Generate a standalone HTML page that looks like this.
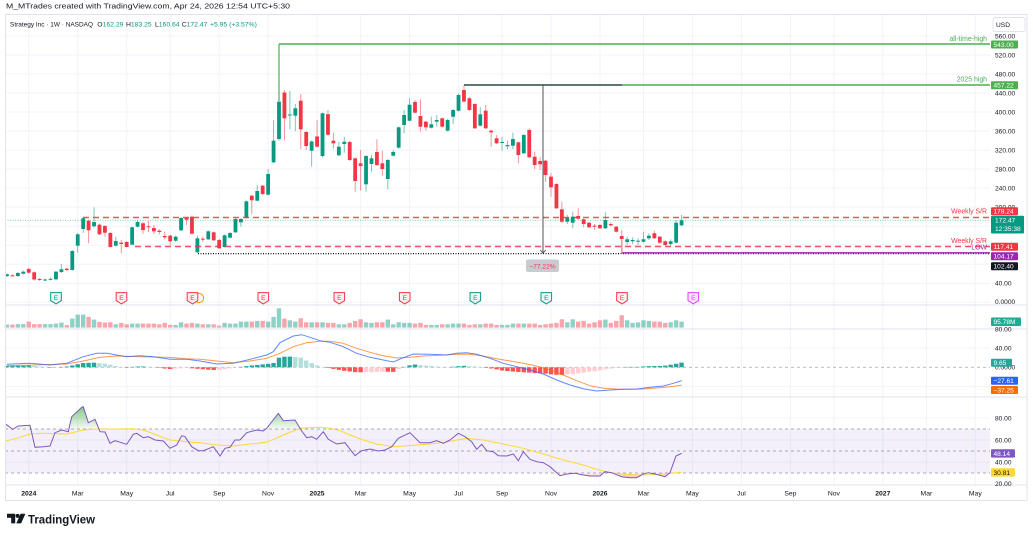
<!DOCTYPE html>
<html><head><meta charset="utf-8">
<style>
html,body{margin:0;padding:0;background:#fff;}
svg{display:block;font-family:"Liberation Sans",sans-serif;}
</style></head>
<body>
<svg id="c" width="1033" height="535" viewBox="0 0 1033 535" xmlns="http://www.w3.org/2000/svg">
<defs>
<linearGradient id="gOB" x1="0" y1="405" x2="0" y2="429" gradientUnits="userSpaceOnUse">
<stop offset="0" stop-color="#4caf50" stop-opacity="0.75"/><stop offset="1" stop-color="#4caf50" stop-opacity="0.05"/></linearGradient>
<linearGradient id="gOS" x1="0" y1="473" x2="0" y2="480" gradientUnits="userSpaceOnUse">
<stop offset="0" stop-color="#f23645" stop-opacity="0.05"/><stop offset="1" stop-color="#f23645" stop-opacity="0.5"/></linearGradient>
<clipPath id="cOB"><rect x="0" y="397" width="990" height="32"/></clipPath>
<clipPath id="cOS"><rect x="0" y="473" width="990" height="12"/></clipPath>
</defs>
<rect width="1033" height="535" fill="#fff"/>
<text x="6" y="8.7" font-size="7.6" fill="#131722" textLength="284" lengthAdjust="spacingAndGlyphs">M_MTrades created with TradingView.com, Apr 24, 2026 12:54 UTC+5:30</text>
<g id="grid"></g>
<rect x="5" y="429" width="985" height="44" fill="#7e57c2" fill-opacity="0.09"/>
<g stroke="#787b86" stroke-width="0.8" stroke-dasharray="3,3" opacity="0.8">
<line x1="5" x2="990" y1="429" y2="429"/><line x1="5" x2="990" y1="451" y2="451"/><line x1="5" x2="990" y1="473" y2="473"/>
<line x1="5" x2="990" y1="367.3" y2="367.3" opacity="0.7"/>
</g>
<g id="data"></g>
<!-- drawings -->
<line x1="5" x2="990" y1="220.3" y2="220.3" stroke="#089981" stroke-width="0.9" stroke-dasharray="1,1.5" opacity="0.55"/>
<line x1="83" x2="990" y1="217.5" y2="217.5" stroke="#f23645" stroke-width="1.5" stroke-dasharray="6,4" opacity="0.85"/>
<line x1="135" x2="990" y1="246.5" y2="246.5" stroke="#f23645" stroke-width="1.5" stroke-dasharray="6,4" opacity="0.85"/>
<line x1="198" x2="990" y1="253.6" y2="253.6" stroke="#131722" stroke-width="1.2" stroke-dasharray="1,1.5"/>
<line x1="622" x2="990" y1="252.8" y2="252.8" stroke="#9c27b0" stroke-width="1.4"/>
<line x1="279" x2="990" y1="44" y2="44" stroke="#4caf50" stroke-width="1.4"/>
<line x1="279" x2="279" y1="44" y2="101" stroke="#4caf50" stroke-width="1.2"/>
<line x1="464" x2="990" y1="85" y2="85" stroke="#4caf50" stroke-width="1.4"/>
<line x1="464" x2="622" y1="85" y2="85" stroke="#50535e" stroke-width="1.4"/>
<line x1="543" x2="543" y1="85" y2="253" stroke="#50535e" stroke-width="1"/>
<path d="M540.3,250 L543,253.2 L545.7,250" fill="none" stroke="#50535e" stroke-width="0.9"/>
<line x1="622" x2="622" y1="240" y2="253" stroke="#f23645" stroke-width="0.8" opacity="0.6"/>
<rect x="526" y="259.5" width="33" height="12.5" rx="2" fill="#c9cbd1"/>
<text x="542.5" y="268.3" font-size="6.6" fill="#f23645" text-anchor="middle">−77.22%</text>
<g font-size="6.9" text-anchor="end">
<text x="987" y="40.8" fill="#4caf50">all-time-high</text>
<text x="987" y="81.6" fill="#4caf50">2025 high</text>
<text x="987" y="213.6" fill="#f23645">Weekly S/R</text>
<text x="987" y="243" fill="#f23645">Weekly S/R</text>
<text x="987" y="249.4" fill="#9c27b0">LOW</text>
</g>
<g id="earn"></g>
<!-- legend -->
<g font-size="6.8">
<text x="10" y="26.3" fill="#131722" textLength="83" lengthAdjust="spacingAndGlyphs">Strategy Inc · 1W · NASDAQ</text>
<text x="97.3" y="26.3" fill="#131722">O<tspan fill="#089981">162.29</tspan></text>
<text x="126" y="26.3" fill="#131722">H<tspan fill="#089981">183.25</tspan></text>
<text x="155" y="26.3" fill="#131722">L<tspan fill="#089981">160.64</tspan></text>
<text x="181.7" y="26.3" fill="#131722">C<tspan fill="#089981">172.47</tspan></text>
<text x="210" y="26.3" fill="#089981">+5.95 (+3.57%)</text>
</g>
<!-- frame -->
<g stroke="#e0e3eb" stroke-width="1" fill="none">
<rect x="5.5" y="14.5" width="1021.5" height="486"/>
<line x1="5" x2="1027" y1="305" y2="305"/>
<line x1="5" x2="1027" y1="329" y2="329"/>
<line x1="5" x2="1027" y1="397" y2="397"/>
<line x1="5" x2="1027" y1="485" y2="485"/>
</g>
<!-- axis -->
<rect x="993" y="17.5" width="32" height="14" rx="2" fill="#fff" stroke="#e0e3eb"/>
<text x="1003" y="27" font-size="6.6" fill="#131722" text-anchor="middle">USD</text>
<g font-size="6.6" fill="#131722">
<text x="995" y="38.4">560.00</text><text x="995" y="57.4">520.00</text><text x="995" y="76.4">480.00</text>
<text x="995" y="95.4">440.00</text><text x="995" y="114.4">400.00</text><text x="995" y="133.4">360.00</text>
<text x="995" y="152.4">320.00</text><text x="995" y="171.4">280.00</text><text x="995" y="190.5">240.00</text>
<text x="995" y="209.5">200.00</text><text x="995" y="285.6">40.00</text><text x="995" y="304">0.0000</text>
<text x="995" y="331.5">80.00</text><text x="995" y="350.6">40.00</text><text x="995" y="369.6">0.0000</text>
<text x="995" y="420.3">80.00</text><text x="995" y="442.3">60.00</text><text x="995" y="464.3">40.00</text><text x="995" y="486">20.00</text>
</g>
<g font-size="6.6" fill="#fff">
<rect x="991" y="40.5" width="27" height="8" rx="1" fill="#4caf50"/><text x="993.5" y="46.9">543.00</text>
<rect x="991" y="81.3" width="27" height="8" rx="1" fill="#4caf50"/><text x="993.5" y="87.7">457.22</text>
<rect x="991" y="207.3" width="27" height="8" rx="1" fill="#f23645"/><text x="993.5" y="213.7">178.24</text>
<rect x="991" y="215.7" width="33" height="17.8" rx="1" fill="#089981"/><text x="995" y="222.6">172.47</text><text x="995" y="231">12:35:38</text>
<rect x="991" y="242.7" width="27" height="8" rx="1" fill="#f23645"/><text x="993.5" y="249.1">117.41</text>
<rect x="991" y="252.3" width="27" height="8" rx="1" fill="#9c27b0"/><text x="993.5" y="258.7">104.17</text>
<rect x="991" y="262.3" width="27" height="8" rx="1" fill="#131722"/><text x="993.5" y="268.7">102.40</text>
<rect x="991" y="317.5" width="30" height="8.5" rx="1" fill="#22ab94"/><text x="993.5" y="324.1">95.78M</text>
<rect x="991" y="358.7" width="21" height="8" rx="1" fill="#26a69a"/><text x="993.5" y="365.1">9.65</text>
<rect x="991" y="376.7" width="27" height="8" rx="1" fill="#2962ff"/><text x="993.5" y="383.1">−27.61</text>
<rect x="991" y="386" width="27" height="8" rx="1" fill="#ff6d00"/><text x="993.5" y="392.4">−37.25</text>
<rect x="991" y="449.3" width="24" height="8.3" rx="1" fill="#7e57c2"/><text x="993.5" y="455.9">48.14</text>
<rect x="991" y="468.3" width="24" height="8.3" rx="1" fill="#fdd835"/><text x="993.5" y="474.9" fill="#131722">30.81</text>
</g>
<g id="time" font-size="6.8" fill="#131722" text-anchor="middle"></g>
<!-- footer logo -->
<path d="M7,513.8 h8.2 v9.6 h-4 v-5.6 h-4.2 z" fill="#131722"/>
<circle cx="17.6" cy="515.9" r="2" fill="#131722"/>
<path d="M20.6,513.8 h4.8 l-4.3,9.6 h-4.8 z" fill="#131722"/>
<text x="28" y="523.4" font-size="12" font-weight="bold" fill="#131722" textLength="67" lengthAdjust="spacingAndGlyphs">TradingView</text>
<script><![CDATA[
(function(){
var X0=7,DX=5.44;
function xi(i){return X0+DX*i;}
var C=[[276,274.3,273.5,277],[275.3,275.8,274.5,276.5],[276,273,272,277],[273.7,271.7,270.5,274.5],[269,272.7,267.7,273.5],[272.3,279.5,271.5,280.5],[279,279.8,278,281],[280.3,279.5,278.5,281],[279.8,278.8,277.5,280.5],[279.3,271.7,271,280],
[272,269.3,264,273],[268.7,270,268,271],[270,251,250,270.5],[245.7,234.3,233,252.7],[229,218.3,217,233],[220.7,230.3,219.5,243.3],[226.3,222,207.3,227.5],[224.7,234.3,223.5,235],[226,232.7,225,236.7],[233,247,232,247.5],
[245.7,241,236.7,246.5],[242.7,244,240,253.3],[242,247,241,247.5],[244.7,227.3,226.5,245],[226.7,222,220,227.5],[223.3,230,222,234],[226.3,227.2,221,232],[228,231.3,225,234],[230.7,232,229,234.5],[236,237.3,231.7,239.3],
[235.7,241.3,234.5,245],[240.7,236.7,235.5,242],[230.3,218,217,231],[218,219.7,217,225],[216.7,233.7,215.5,234.5],[252.3,238.3,235.7,253],[238.7,239.3,236.7,242],[239.3,231.3,230.5,240],[232.3,240.3,231.5,241],[240,248.3,239,249],
[247,235.3,234.5,247.5],[237.7,233,232,238.5],[232.3,219,218,233],[222.3,219,218,226.7],[217.7,201.3,200.5,218.5],[195.7,200.3,195,214.3],[200.7,191,185.3,201.5],[185.7,194,185,195],[194.7,174,169,195.5],[162.3,140.7,120,163],
[139,101.7,44,141],[92.5,118.3,90,140.5],[115.3,114.5,91,129.3],[115.7,108.3,104,131],[100.7,129.3,94,149],[132,146,131,150],[150.7,141.5,140.5,166.7],[136.5,146.7,120,147.5],[156,113.3,112.5,157.3],[114.2,134.8,110,135.5],
[140.7,143.3,132.7,148.7],[155.3,146.7,141.7,156],[144,141.7,136.7,152.7],[142,160,140.7,161],[158.3,181,157.5,191.7],[163.3,166,150,190.7],[184.3,156,155,191.7],[164,158.3,155,171.7],[152,165,139.3,166],[163.3,169,150.7,175.7],
[179,160,159,189.3],[155.7,152,150,156.5],[147.7,127.3,126.5,148.5],[125,115,110,133.3],[120.7,104.7,98.3,121.5],[102,112.7,100,113.5],[116,126.7,99.3,131.7],[121.7,127.3,121,130.7],[127.7,124.3,116.7,128.5],[121.7,120,115,126.7],
[118.3,126.7,117.5,127.5],[130.7,120,119,131.5],[116.7,110,109,124],[110.7,95,93.3,111.5],[90,101.5,85,102.5],[98.3,110,97,111],[104,128.3,103,129],[125.7,114.3,107.3,126.5],[110.7,128.3,105,129],[130.7,132.3,129.5,146.7],
[138.3,143.3,135,144],[142.7,142,136.7,150.7],[146.3,145,140.5,149.3],[145.7,139,132.7,149.3],[142.3,155,141.5,163.3],[153.3,135,134,154],[130,157.3,128.3,158],[156.7,165,151.7,169.3],[161,164.3,157,170],[160.7,175,160,181.7],
[176.7,187.3,173.3,196.7],[184,208.3,183.5,209],[209.3,221.7,201.7,223.3],[221.7,217.7,215,224],[222.7,216.7,211.7,228.3],[216,218.7,208.3,219.5],[219.3,224,218.5,227.3],[222.7,227.3,222,228],[225.7,226.3,224,230],[225,228.3,224,229],
[228.3,220,212.3,229],[224,225.3,222.5,226.5],[226.7,231.7,226,232.5],[236,239,230,253.3],[242,239.3,236.7,245],[241.3,240,237.3,244],[241.7,240.7,238.3,245],[241.7,239.3,231.7,242.5],[238.3,235.7,233.3,240],[233.3,238.3,230.7,239],
[236.7,242.7,236,243.5],[241.3,245,240.5,245.7],[244,241.3,239.3,246],[242.7,222.7,220,243.3],[225.3,220.3,215,226]];
var V=[3,3,3.5,3.5,6,3.5,3.5,3.5,3.5,4,5,2.5,9,13,13,10.7,8,5.7,5,5.3,3.3,4.7,3.3,4,4,4,4,4,3.3,4.7,2.7,2.7,5.3,4,4.7,4,3.3,3.3,3.3,2,4.7,4,4,6,6,6,6.7,6.7,6,10.7,19.3,9,7.3,6,9.3,5.3,5.3,5.3,5.3,4.7,4.7,3.3,3.3,4.7,6.7,8.3,5.3,4.7,5.3,5.3,8,3.3,5.3,4.7,4.7,4,4.7,2.7,2.7,2.7,3.3,3.3,4,4,4,2.7,3.3,3.3,4,4,2.7,2.7,2.7,4,4,4,4,4,2.7,3.3,4,4.7,8.3,5.3,8.3,6,6.7,4,5.3,7.3,8,4.7,6.7,12.3,7.3,4.7,5.3,7.3,6.7,6,6,4.7,5.3,7.3,6];
var B=[[6.7,364.3],[30,363.3],[50,365],[66.7,363.3],[83.3,356.7],[96.7,353.3],[106.7,353.3],[126.7,356.7],[140,355.7],[153.3,356.7],[170,359.3],[186.7,359.3],[200,361],[216.7,364],[233.3,363.3],[250,359.3],[266.7,355],[273.3,351.7],[280,342.7],[293.3,336],[301.7,334.7],[310,337.3],[320,340.7],[330,342.3],[343.3,346.7],[356.7,353.3],[370,357.3],[383.3,360],[393.3,362],[401.7,358.3],[413.3,354],[430,354.3],[446.7,355],[456.7,353.3],[466.7,352.7],[476.7,354.3],[490,358.3],[503.3,363.3],[516.7,366.7],[530,370],[543.3,374],[556.7,380],[570,385],[583.3,388.7],[596.7,391],[610,390],[623.3,389.3],[636.7,389],[650,387.3],[663.3,386],[673.3,383.3],[681.7,380.6]];
var O=[[6.7,365.7],[33.3,365],[66.7,364],[83.3,361],[100,357.3],[116.7,356],[140,356.7],[166.7,357.3],[186.7,358.7],[200,359.3],[216.7,361],[233.3,362.7],[250,361],[266.7,358.3],[280,353.3],[293.3,346.7],[306.7,342.7],[320,341.3],[330,341.3],[343.3,343.3],[356.7,348.3],[370,352.3],[383.3,355.7],[396.7,358],[410,357.3],[423.3,356],[440,355.3],[456.7,354.3],[470,354.3],[483.3,356],[496.7,358.7],[510,361],[523.3,363.3],[536.7,366],[550,370],[563.3,375],[576.7,380.7],[590,385.7],[603.3,388.3],[616.7,389],[630,389.3],[643.3,389],[656.7,388],[670,386.7],[681.7,385.3]];
var P=[[6,424.3],[12.7,429.3],[18.3,426],[30,425.3],[35,447.3],[43.3,446.7],[50,446],[55,432.7],[61.7,430],[68.3,431.7],[71.7,416.7],[81.7,407.3],[83.3,406.7],[88.3,422.7],[95,419.3],[100,431.7],[105,432],[110,443.3],[115,440.7],[126.7,444.3],[133.3,434.3],[136.7,433.3],[143.3,437.7],[148.3,436.7],[155,440],[163.3,441],[170,448.3],[176.7,445],[181.7,435.7],[185,436.7],[191.7,446.7],[198.3,450.7],[203.3,450.7],[213.3,446.7],[220,456],[225,448.3],[230,447.3],[235,440],[240,440],[246.7,432.7],[256.7,430],[263.3,431],[266.7,428.3],[278.3,413.3],[283.3,420.7],[295,420],[301.7,431],[306.7,437.7],[311.7,436.7],[316.7,439.3],[323.3,431.7],[328.3,439.3],[336.7,444],[345,442.7],[355,455.7],[361.7,450.7],[370,449],[378.3,451],[385,450],[391.7,446.7],[398.3,438.3],[410,432.7],[420,442.7],[430,442.7],[436.7,440.7],[443.3,443.3],[450,440],[458.3,433.3],[465,436.7],[471.7,441.7],[476.7,449.3],[481.7,444.3],[486.7,450.7],[493.3,451.7],[498.3,455.7],[506.7,456],[513.3,454],[518.3,460.7],[523.3,451.7],[530,459.3],[536.7,461.7],[543.3,462.7],[550,466.7],[560,475.7],[566.7,474],[575,473.3],[583.3,475],[590,476],[600,476],[605,471.7],[611.7,472.7],[621.7,476.7],[630,477.7],[636.7,477.7],[643.3,474],[648.3,472.7],[655,474],[665,476.7],[670,472.7],[676,456],[681.7,453.3]];
var Y=[[6,441],[20,437.3],[30,434],[43.3,433.3],[66.7,434],[83.3,430],[96.7,429],[116.7,429],[133.3,428.7],[143.3,430],[156.7,435],[170,440],[186.7,441.7],[200,442.7],[216.7,445],[233.3,446],[250,444],[266.7,442.3],[283.3,435],[300,428.3],[310,427.7],[320,427.3],[330,428.3],[340,430.7],[350,435],[363.3,440],[376.7,444],[393.3,446.7],[413.3,445.3],[430,444],[446.7,442],[466.7,438.3],[483.3,440],[503.3,444],[523.3,448.3],[543.3,454],[563.3,460],[583.3,465],[596.7,469.3],[610,472.7],[623.3,474.3],[636.7,475],[650,474.7],[663.3,474],[681.7,472.3]];
function interp(a,x){if(x<=a[0][0])return a[0][1];for(var k=1;k<a.length;k++){if(x<=a[k][0]){var t=(x-a[k-1][0])/(a[k][0]-a[k-1][0]);return a[k-1][1]+t*(a[k][1]-a[k-1][1]);}}return a[a.length-1][1];}
function pts(a){return a.map(function(p){return p[0]+','+p[1];}).join(' ');}
// grid
var g='';
var VX=[28.8,77.7,126.7,170.2,219.2,268.1,317,360.6,409.6,458.5,502,551,600,643.5,692.4,741.4,790.4,833.9,882.8,926.4,975.3];
VX.forEach(function(x){g+='<line x1="'+x+'" x2="'+x+'" y1="15" y2="485" stroke="#f0f3fa" stroke-width="1"/>';});
for(var p=0;p<=560;p+=40){var y=302.3-0.4756*p;g+='<line x1="5" x2="990" y1="'+y+'" y2="'+y+'" stroke="#f0f3fa" stroke-width="1"/>';}
[348,386.6,418,440,462].forEach(function(y){g+='<line x1="5" x2="990" y1="'+y+'" y2="'+y+'" stroke="#f0f3fa" stroke-width="1"/>';});
document.getElementById('grid').innerHTML=g;
// time labels
var TL=[['2024',28.8,1],['Mar',77.7],['May',126.7],['Jul',170.2],['Sep',219.2],['Nov',268.1],['2025',317,1],['Mar',360.6],['May',409.6],['Jul',458.5],['Sep',502],['Nov',551],['2026',600,1],['Mar',643.5],['May',692.4],['Jul',741.4],['Sep',790.4],['Nov',833.9],['2027',882.8,1],['Mar',926.4],['May',975.3]];
var t='';TL.forEach(function(l){t+='<text x="'+l[1]+'" y="495.5"'+(l[2]?' font-weight="bold"':'')+'>'+l[0]+'</text>';});
document.getElementById('time').innerHTML=t;
var s='';
// volume
C.forEach(function(c,i){var up=c[1]<=c[0];var h=V[i]||4;var x=xi(i);
s+='<rect x="'+(x-2.2)+'" y="'+(327.6-h)+'" width="4.4" height="'+h+'" fill="'+(up?'#089981':'#f23645')+'" fill-opacity="0.45"/>';});
// MACD histogram
var prev=0;
C.forEach(function(c,i){var x=xi(i);var h=interp(O,x)-interp(B,x);var col;
if(h>=0){col=h>=prev?'#26a69a':'#b2dfdb';}else{col=h<prev?'#ff5252':'#ffcdd2';}
prev=h;var hh=Math.max(Math.abs(h),0.4);
s+='<rect x="'+(x-2.2)+'" y="'+(h>=0?367.3-hh:367.3)+'" width="4.4" height="'+hh+'" fill="'+col+'"/>';});
s+='<polyline points="'+pts(O)+'" fill="none" stroke="#ff6d00" stroke-opacity="0.7" stroke-width="1"/>';
s+='<polyline points="'+pts(B)+'" fill="none" stroke="#2962ff" stroke-opacity="0.75" stroke-width="1"/>';
// RSI
var poly=pts(P)+' 681.7,451 6,451';
s+='<polygon points="'+pts(P)+' 681.7,429 6,429" fill="url(#gOB)" clip-path="url(#cOB)"/>';
s+='<polygon points="'+pts(P)+' 681.7,473 6,473" fill="url(#gOS)" clip-path="url(#cOS)"/>';
s+='<polyline points="'+pts(Y)+'" fill="none" stroke="#fdd835" stroke-width="1"/>';
s+='<polyline points="'+pts(P)+'" fill="none" stroke="#7e57c2" stroke-width="1"/>';
// candles
C.forEach(function(c,i){var o=c[0],cl=c[1],h=c[2],l=c[3];var up=cl<=o;var col=up?'#089981':'#f23645';var x=xi(i);
s+='<line x1="'+x+'" x2="'+x+'" y1="'+h+'" y2="'+l+'" stroke="'+col+'" stroke-opacity="0.55" stroke-width="1"/>';
var top=Math.min(o,cl),hh=Math.max(Math.abs(o-cl),1);
s+='<rect x="'+(x-1.9)+'" y="'+top+'" width="3.8" height="'+hh+'" fill="'+col+'"/>';});
document.getElementById('data').innerHTML=s;
// earnings icons
var E=[[56,'#089981'],[121.5,'#f23645'],[192.5,'#f23645'],[263.3,'#f23645'],[339.3,'#f23645'],[404.7,'#f23645'],[475.3,'#089981'],[546.3,'#089981'],[622,'#f23645'],[693.3,'#e040fb']];
var e='<circle cx="199" cy="298" r="4.6" fill="#fff" stroke="#ff9800" stroke-width="1"/>';
E.forEach(function(q){var x=q[0],c=q[1];
e+='<path d="M'+(x-5.3)+',292.6 h10.6 v8 l-5.3,3.3 l-5.3,-3.3 z" fill="#fff" stroke="'+c+'" stroke-width="1"/>';
e+='<path d="M'+(x-5.3)+',292.6 h10.6 v8 l-5.3,3.3 l-5.3,-3.3 z" fill="'+c+'" fill-opacity="'+(c=='#e040fb'?0.15:0.08)+'"/>';
e+='<text x="'+x+'" y="300.2" font-size="6.6" fill="'+c+'" text-anchor="middle">E</text>';});
document.getElementById('earn').innerHTML=e;
})();
]]></script>
</svg>
</body></html>
